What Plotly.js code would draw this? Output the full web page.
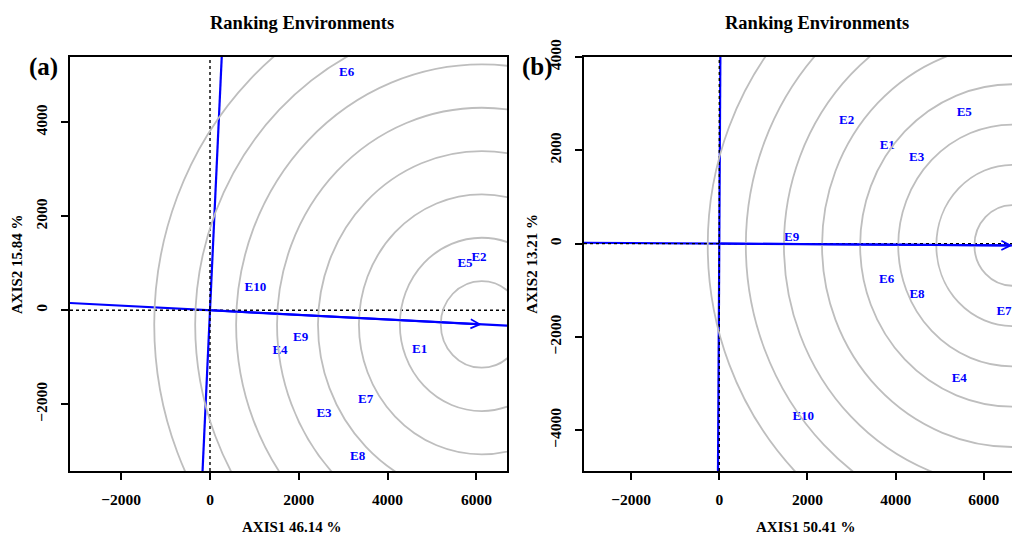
<!DOCTYPE html>
<html><head><meta charset="utf-8">
<script src="https://cdn.plot.ly/plotly-3.0.1.min.js"></script>
<style>html,body{margin:0;padding:0;background:#fff}#chart{width:1012px;height:536px}</style>
</head><body><div id="chart"></div>
<script>
// ---------- Panel (a) ----------
const envNamesA = ['E1','E2','E3','E4','E5','E6','E7','E8','E9','E10'];
const envXA = [4723, 6059, 2568, 1576, 5743, 3079, 3507, 3326, 2042, 1021];
const envYA = [-845, 1128, -2206, -860, 1000, 5055, -1894, -3115, -589, 489];
const aecA = [6120, -300];      // average-environment point (centre of rings)
const ringStepA = 922;
const ringCountA = 8;
const xRangeA = [-3153, 6689];
const yRangeA = [-3420, 5390];
const xTitleA = 'AXIS1 46.14 %';
const yTitleA = 'AXIS2 15.84 %';

// ---------- Panel (b) ----------
const envNamesB = ['E1','E2','E3','E4','E5','E6','E7','E8','E9','E10'];
const envXB = [3810, 2889, 4476, 5442, 5556, 3796, 6456, 4483, 1642, 1905];
const envYB = [2107, 2643, 1843, -2894, 2808, -772, -1466, -1093, 129, -3717];
const aecB = [6650, -40];
const ringStepB = 864;
const ringCountB = 8;
const xRangeB = [-3068, 6638];
const yRangeB = [-4875, 4000];
const xTitleB = 'AXIS1 50.41 %';
const yTitleB = 'AXIS2 13.21 %';

const plotTitle = 'Ranking Environments';
const FONT = 'Liberation Serif, Times New Roman, serif';
const BLUE = '#0000FF';

function panelTraces(names, xs, ys, aec, xr, yr, xa, ya) {
  const slope = aec[1] / aec[0];
  const perp = -aec[1] / aec[0];
  return [
    {x: [xr[0], xr[1]], y: [slope * xr[0], slope * xr[1]], xaxis: xa, yaxis: ya, mode: 'lines',
     line: {color: BLUE, width: 2.2}, hoverinfo: 'skip'},
    {x: [perp * yr[0], perp * yr[1]], y: [yr[0], yr[1]], xaxis: xa, yaxis: ya, mode: 'lines',
     line: {color: BLUE, width: 2.2}, hoverinfo: 'skip'},
    {x: [xr[0], xr[1]], y: [0, 0], xaxis: xa, yaxis: ya, mode: 'lines',
     line: {color: '#000', width: 1.4, dash: 'dot'}, hoverinfo: 'skip'},
    {x: [0, 0], y: [yr[0], yr[1]], xaxis: xa, yaxis: ya, mode: 'lines',
     line: {color: '#000', width: 1.4, dash: 'dot'}, hoverinfo: 'skip'},
    {x: xs, y: ys, text: names, xaxis: xa, yaxis: ya, mode: 'text',
     textposition: 'middle center',
     textfont: {family: FONT, size: 13, color: BLUE, weight: 'bold'}}
  ];
}

function rings(aec, step, count, xref, yref) {
  const out = [];
  for (let k = 1; k <= count; k++) {
    const r = step * k;
    out.push({type: 'circle', xref: xref, yref: yref, layer: 'above',
      x0: aec[0] - r, x1: aec[0] + r, y0: aec[1] - r, y1: aec[1] + r,
      line: {color: '#BEBEBE', width: 1.8}});
  }
  return out;
}

const data = [].concat(
  panelTraces(envNamesA, envXA, envYA, aecA, xRangeA, yRangeA, 'x', 'y'),
  panelTraces(envNamesB, envXB, envYB, aecB, xRangeB, yRangeB, 'x2', 'y2')
);

const W = 1012, H = 536;
const px = v => v / W, py = v => 1 - v / H;

const axisBase = {
  showgrid: false, zeroline: false, showline: true, linecolor: '#000', linewidth: 2,
  ticks: 'outside', ticklen: 7, tickwidth: 2, tickcolor: '#000',
  tickfont: {family: FONT, size: 15.5, color: '#000', weight: 'bold'},
  tickformat: 'd', dtick: 2000, tick0: 0, fixedrange: true
};

function ann(text, x, y, size, angle) {
  return {text: text, x: px(x), y: py(y), xref: 'paper', yref: 'paper',
    xanchor: 'center', yanchor: 'middle', showarrow: false, textangle: angle || 0,
    font: {family: FONT, size: size, color: '#000', weight: 'bold'}};
}
function arrow(aec, xa, ya) {
  return {x: aec[0], y: aec[1], xref: xa, yref: ya, axref: xa, ayref: ya,
    ax: 0, ay: 0, text: '', showarrow: true, arrowhead: 5, arrowsize: 0.9,
    arrowwidth: 2, arrowcolor: BLUE};
}

const yDom = [py(471), py(57)];
const layout = {
  width: W, height: H, margin: {l: 0, r: 0, t: 0, b: 0},
  paper_bgcolor: '#fff', plot_bgcolor: '#fff', showlegend: false,
  font: {family: FONT, color: '#000'},
  xaxis: Object.assign({}, axisBase, {domain: [px(70), px(507)], range: xRangeA, anchor: 'y', mirror: true, ticklabelstandoff: 6}),
  yaxis: Object.assign({}, axisBase, {domain: yDom, range: yRangeA, anchor: 'x', mirror: true, tickangle: -90, ticklabelstandoff: 8}),
  xaxis2: Object.assign({}, axisBase, {domain: [px(584), 1], range: xRangeB, anchor: 'y2', mirror: true, ticklabelstandoff: 6}),
  yaxis2: Object.assign({}, axisBase, {domain: yDom, range: yRangeB, anchor: 'x2', mirror: false, tickangle: -90, ticklabelstandoff: 8}),
  shapes: [].concat(rings(aecA, ringStepA, ringCountA, 'x', 'y'), rings(aecB, ringStepB, ringCountB, 'x2', 'y2')),
  annotations: [
    ann(plotTitle, 302, 23, 18.5),
    ann(plotTitle, 817, 23, 18.5),
    ann('(a)', 43, 67, 25),
    ann('(b)', 537, 67, 25),
    ann(xTitleA, 291.7, 527, 15),
    ann(xTitleB, 805.7, 527, 15),
    ann(yTitleA, 17, 264, 15, -90),
    ann(yTitleB, 531.7, 264, 15, -90),
    arrow(aecA, 'x', 'y'),
    arrow(aecB, 'x2', 'y2')
  ]
};

Plotly.newPlot('chart', data, layout, {displayModeBar: false, staticPlot: true});
</script>
</body></html>
